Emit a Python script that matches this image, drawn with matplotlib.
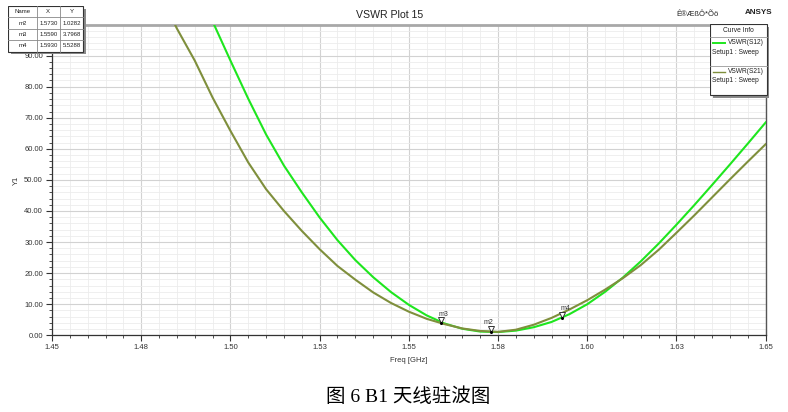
import matplotlib
matplotlib.use("Agg")
import matplotlib.pyplot as plt
import matplotlib.transforms as mtransforms
from matplotlib.patches import Rectangle

# ---------------- data ----------------
freq_s12 = [1.495, 1.500, 1.505, 1.510, 1.515, 1.520, 1.525, 1.530, 1.535, 1.540,
            1.545, 1.550, 1.555, 1.560, 1.565, 1.570, 1.575, 1.580, 1.585, 1.590,
            1.595, 1.600, 1.605, 1.610, 1.615, 1.620, 1.625, 1.630, 1.635, 1.640,
            1.645, 1.650]
vswr_s12 = [101.0, 88.4, 76.1, 64.6, 54.6, 46.0, 37.9, 30.6, 24.2, 18.7,
            13.9, 9.8, 6.4, 3.8, 2.1, 1.2, 1.05, 1.5, 2.6, 4.3,
            6.8, 10.0, 14.0, 18.6, 23.8, 29.5, 35.6, 41.9, 48.4, 55.0,
            61.7, 68.5]

freq_s21 = [1.480, 1.485, 1.490, 1.495, 1.500, 1.505, 1.510, 1.515, 1.520, 1.525,
            1.530, 1.535, 1.540, 1.545, 1.550, 1.555, 1.560, 1.565, 1.570, 1.575,
            1.580, 1.585, 1.590, 1.595, 1.600, 1.605, 1.610, 1.615, 1.620, 1.625,
            1.630, 1.635, 1.640, 1.645, 1.650]
vswr_s21 = [110.5, 98.7, 88.4, 76.5, 65.8, 55.6, 47.0, 40.0, 33.6, 27.7,
            22.3, 17.9, 13.8, 10.4, 7.6, 5.3, 3.6, 2.2, 1.4, 1.1,
            1.8, 3.4, 5.6, 8.3, 11.3, 14.7, 18.4, 22.6, 27.5, 33.0,
            38.6, 44.4, 50.2, 55.9, 61.5]

marker_names = ["m2", "m3", "m4"]
marker_x = [1.5730, 1.5590, 1.5930]
marker_y = [1.0282, 3.7968, 5.5288]
marker_x_text = ["1.5730", "1.5590", "1.5930"]
marker_y_text = ["1.0282", "3.7968", "5.5288"]

xtick_pos = [1.45, 1.475, 1.50, 1.525, 1.55, 1.575, 1.60, 1.625, 1.65]
xtick_labels = ["1.45", "1.48", "1.50", "1.53", "1.55", "1.58", "1.60", "1.63", "1.65"]
ytick_pos = [0, 10, 20, 30, 40, 50, 60, 70, 80, 90, 100]
ytick_labels = ["0.00", "10.00", "20.00", "30.00", "40.00", "50.00", "60.00",
                "70.00", "80.00", "90.00", ""]

series_names = ["VSWR(S12)", "VSWR(S21)"]
series_sub = ["Setup1 : Sweep", "Setup1 : Sweep"]
GREEN = "#1ee61e"
OLIVE = "#7f8f3c"

# ---------------- figure ----------------
W, H = 788, 412
plt.rcParams["font.family"] = ["Liberation Sans", "DejaVu Sans"]
fig = plt.figure(figsize=(W / 100, H / 100), dpi=100)
fig.patch.set_facecolor("white")

def fx(px):
    return px / W

def fy(py):
    return 1 - py / H

ax_l, ax_r, ax_t, ax_b = 52, 765.7, 24.5, 335.3
ax = fig.add_axes([fx(ax_l), fy(ax_b), fx(ax_r) - fx(ax_l), fy(ax_t) - fy(ax_b)])
ax.set_xlim(1.45, 1.65)
ax.set_ylim(0, 100)

ax.set_xticks(xtick_pos)
ax.set_xticklabels(xtick_labels, fontsize=5.5, color="#333333")
ax.set_yticks(ytick_pos)
ax.set_yticklabels(ytick_labels, fontsize=5.5, color="#333333")
ax.set_xticks([1.45 + 0.005 * i for i in range(41)], minor=True)
ax.set_yticks([2 * i for i in range(51)], minor=True)
ax.tick_params(axis="both", which="major", length=4, width=0.8, color="#333333", pad=2.5)
ax.tick_params(axis="both", which="minor", length=2.5, width=0.6, color="#333333")

ax.grid(True, which="major", color="#d2d2d2", linewidth=0.8)
ax.grid(True, which="minor", color="#ececec", linewidth=0.6)
ax.set_axisbelow(True)

for side in ["left", "bottom"]:
    ax.spines[side].set_color("#333333")
    ax.spines[side].set_linewidth(0.9)
ax.spines["top"].set_color("#a8a8a8")
ax.spines["top"].set_linewidth(2.0)
ax.spines["right"].set_color("#555555")
ax.spines["right"].set_linewidth(1.0)

ax.set_xlabel("Freq [GHz]", fontsize=5.5, color="#333333", labelpad=4)
ax.set_ylabel("Y1", fontsize=5.5, color="#333333", labelpad=3)

ax.plot(freq_s12, vswr_s12, color=GREEN, linewidth=1.5, zorder=3)
ax.plot(freq_s21, vswr_s21, color=OLIVE, linewidth=1.5, zorder=4)

# markers
off = mtransforms.offset_copy(ax.transData, fig=fig, x=0, y=2.2, units="points")
for name, mx, my in zip(marker_names, marker_x, marker_y):
    ax.plot([mx], [my], marker="v", markersize=4, markerfacecolor="white",
            markeredgecolor="#333333", markeredgewidth=0.7, transform=off, zorder=6)
    ax.plot([mx], [my], marker="o", markersize=1.2, color="black", zorder=6)
    ax.annotate(name, (mx, my), xytext=(-1.5, 5.5), textcoords="offset points",
                ha="left" if name != "m2" else "center", fontsize=5, color="#333333", zorder=6)

# titles
fig.text(fx(390), fy(15), "VSWR Plot 15", fontsize=7.6, ha="center", va="center", color="#222222")
fig.text(fx(719), fy(14), "Ê®ÆßÔ*Õö", fontsize=5.5, ha="right", va="center", color="#222222")
fig.text(fx(759), fy(13), "ANSYS", fontsize=5.8, ha="center", va="center", color="#222222",
         fontweight="bold")

# ---------------- marker table ----------------
tl, tt, tr, tb = 8.3, 6.0, 83.3, 51.5
tab = fig.add_axes([fx(tl), fy(tb + 3), fx(tr + 3) - fx(tl), fy(tt) - fy(tb + 3)])
tab.set_xlim(tl, tr + 3)
tab.set_ylim(tb + 3, tt)
tab.axis("off")
tab.add_patch(Rectangle((tl + 2.5, tt + 2.5), tr - tl, tb - tt, facecolor="#8a8a8a",
                        edgecolor="none"))
tab.add_patch(Rectangle((tl, tt), tr - tl, tb - tt, facecolor="white",
                        edgecolor="#333333", linewidth=0.8))
col_edges = [tl, 36.7, 60.0, tr]
row_edges = [tt, 17.4, 28.8, 40.2, tb]
for cx in col_edges[1:-1]:
    tab.plot([cx, cx], [tt, tb], color="#888888", linewidth=0.6)
for ry in row_edges[1:-1]:
    tab.plot([tl, tr], [ry, ry], color="#888888", linewidth=0.6)
rows = [["Name", "X", "Y"]] + [[n, a, b] for n, a, b in zip(marker_names, marker_x_text, marker_y_text)]
for r, row in enumerate(rows):
    yc = (row_edges[r] + row_edges[r + 1]) / 2
    for c, txt in enumerate(row):
        xc = (col_edges[c] + col_edges[c + 1]) / 2
        tab.text(xc, yc, txt, fontsize=4.3, ha="center", va="center", color="#222222")

# ---------------- legend box ----------------
ll, lt, lr, lb = 710, 24, 766.7, 95
leg = fig.add_axes([fx(ll), fy(lb + 3), fx(lr + 3) - fx(ll), fy(lt) - fy(lb + 3)])
leg.set_xlim(ll, lr + 3)
leg.set_ylim(lb + 3, lt)
leg.axis("off")
leg.add_patch(Rectangle((ll + 2.5, lt + 2.5), lr - ll, lb - lt, facecolor="#8a8a8a",
                        edgecolor="none"))
leg.add_patch(Rectangle((ll, lt), lr - ll, lb - lt, facecolor="white",
                        edgecolor="#333333", linewidth=0.8))
leg.text((ll + lr) / 2, 31, "Curve Info", fontsize=4.8, ha="center", va="center", color="#222222")
leg.plot([ll, lr], [36.5, 36.5], color="#999999", linewidth=0.6)
leg.plot([ll, lr], [65.5, 65.5], color="#999999", linewidth=0.6)
for i, (nm, sub, colr) in enumerate(zip(series_names, series_sub, [GREEN, OLIVE])):
    y0 = 42.5 + 29 * i
    leg.plot([713, 725], [y0, y0], color=colr, linewidth=1.4 if i == 0 else 1.0)
    leg.text(764, y0, nm, fontsize=4.8, ha="right", va="center", color="#222222")
    leg.text(712, y0 + 9.5, sub, fontsize=4.8, ha="left", va="center", color="#222222")

# ---------------- caption ----------------
fig.text(fx(408), fy(397), "图 6 B1 天线驻波图", fontsize=14, ha="center", va="center",
         color="black", family=["Liberation Serif", "Noto Sans CJK SC"])

fig.savefig("out.png", dpi=100, facecolor="white")
